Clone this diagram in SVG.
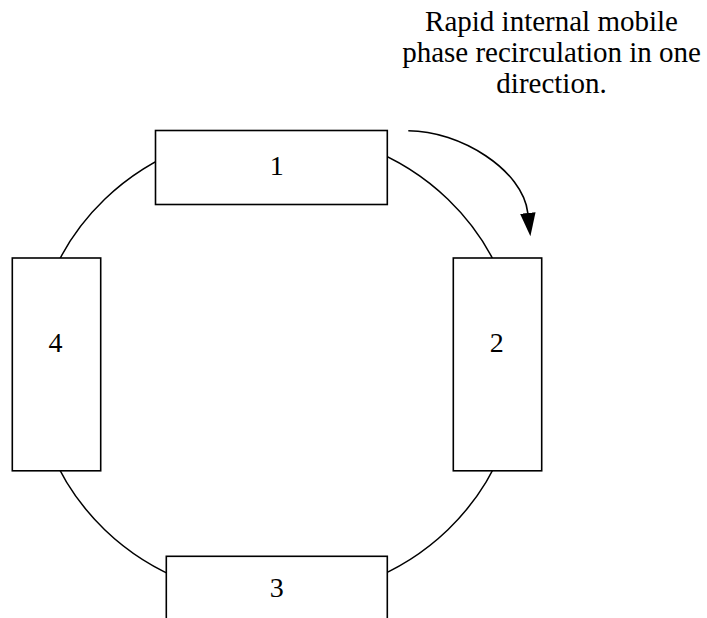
<svg xmlns="http://www.w3.org/2000/svg" width="707" height="618" viewBox="0 0 707 618">
<style>
.box{fill:#fff;stroke:#000;stroke-width:1.6}
.ring{fill:none;stroke:#000;stroke-width:1.5}
.lbl{font-family:"Liberation Serif","Times New Roman",serif;font-size:28px;fill:#000;text-anchor:middle}
.note{font-family:"Liberation Serif","Times New Roman",serif;font-size:29px;fill:#000;text-anchor:middle}
.conn{fill:none;stroke:#000;stroke-width:1.6}
</style>
<defs>
<marker id="ah" markerUnits="userSpaceOnUse" markerWidth="24" markerHeight="16" refX="0" refY="7.8" orient="auto">
<path d="M0,0 L23.5,7.8 L0,15.6 z" fill="#000"/>
</marker>
</defs>
<g id="connectors">
<ellipse class="ring" cx="276.3" cy="364.5" rx="242.7" ry="233.6"/>
<path class="conn" d="M408.3,130.7 C460,130.7 523,170 527.8,213" marker-end="url(#ah)"/>
</g>
<g id="node1">
<rect class="box" x="155.5" y="130.5" width="231.8" height="74"/>
<text class="lbl" x="276.7" y="175.3">1</text>
</g>
<g id="node2">
<rect class="box" x="453.3" y="258" width="88.4" height="212.8"/>
<text class="lbl" x="496.7" y="352.3">2</text>
</g>
<g id="node3">
<rect class="box" x="166.3" y="556.3" width="221" height="80"/>
<text class="lbl" x="276.7" y="596.5">3</text>
</g>
<g id="node4">
<rect class="box" x="12.3" y="258" width="88.4" height="212.8"/>
<text class="lbl" x="55.5" y="352">4</text>
</g>
<g id="note">
<text class="note" x="551.5" y="30.7">Rapid internal mobile</text>
<text class="note" x="551.5" y="61.7">phase recirculation in one</text>
<text class="note" x="551.5" y="92.7">direction.</text>
</g>
</svg>
